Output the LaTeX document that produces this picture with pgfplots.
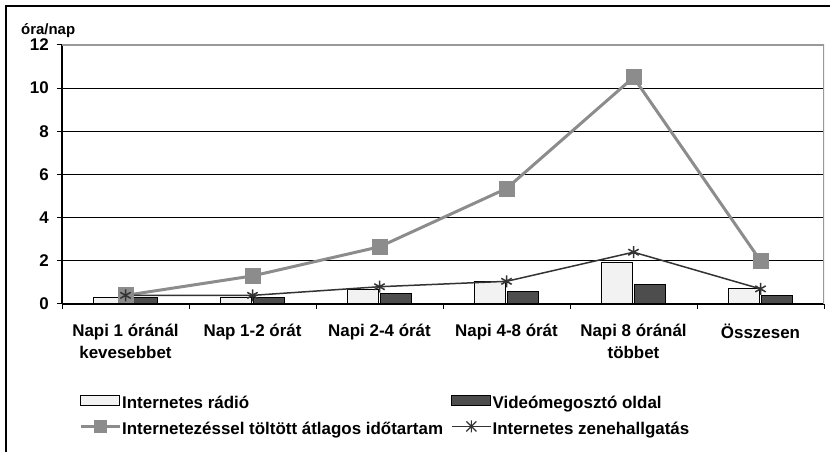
\documentclass[border=0pt]{standalone}
\usepackage{pgfplots}
\pgfplotsset{compat=1.18}
\usepackage{fontspec}
\setmainfont{Liberation Sans}
\definecolor{linegray}{HTML}{8C8C8C}
\definecolor{framegray}{HTML}{999999}
\definecolor{lightbar}{HTML}{F2F2F2}
\definecolor{darkbar}{HTML}{4D4D4D}
\definecolor{starline}{HTML}{333333}
\begin{document}
\begin{tikzpicture}[x=1bp,y=1bp]
\useasboundingbox (0,0) rectangle (830,452);
\draw[line width=1.2bp] (6,-10) -- (6,446) -- (840,446);
\begin{axis}[
  at={(62bp,148bp)}, anchor=south west,
  scale only axis, width=762bp, height=259bp,
  xmin=-0.5, xmax=5.5, ymin=0, ymax=12,
  ytick={0,2,...,12},
  xtick={0,...,5},
  xticklabels={{Napi 1 óránál\\kevesebbet},{Nap 1-2 órát},{Napi 2-4 órát},{Napi 4-8 órát},{Napi 8 óránál\\többet},{Összesen}},
  minor xtick={-0.5,0.5,...,5.5},
  tick align=outside,
  major tick length=5bp, minor tick length=5bp,
  major x tick style={draw=none},
  tick style={black, line width=1bp},
  axis x line*=bottom, axis y line*=left,
  axis line style={-, black, line width=1.5bp},
  ymajorgrids,
  major grid style={black, line width=1bp},
  /pgf/number format/assume math mode=true,
  yticklabel style={font=\fontsize{17}{19}\selectfont\bfseries, inner sep=0pt, xshift=-8bp},
  xticklabel style={font=\fontsize{17}{21.5}\selectfont\bfseries, align=center, inner sep=0pt, yshift=-15bp},
  legend columns=2,
  legend cell align=left,
  legend style={draw=none, fill=none, inner sep=0pt,
    at={(axis description cs:0.0223,-0.35)}, anchor=north west,
    font=\fontsize{17}{19}\selectfont\bfseries,
    row sep=10bp,
    nodes={inner sep=0pt},
    /tikz/every odd column/.append style={column sep=1bp},
    /tikz/every even column/.append style={column sep=8bp}},
]
\addplot[ybar, bar width=31bp, bar shift=-16.5bp, fill=lightbar, draw=black, line width=1bp,
  legend image code/.code={\draw[fill=lightbar, draw=black, line width=1bp] (0bp,-2.5bp) rectangle (39bp,7.5bp);}]
  coordinates {(0,0.3) (1,0.3) (2,0.65) (3,1.05) (4,1.9) (5,0.7)};
\addlegendentry{Internetes rádió}
\addplot[ybar, bar width=31bp, bar shift=16.5bp, fill=darkbar, draw=black, line width=1bp,
  legend image code/.code={\draw[fill=darkbar, draw=black, line width=1bp] (0bp,-2.5bp) rectangle (39bp,7.5bp);}]
  coordinates {(0,0.3) (1,0.3) (2,0.5) (3,0.6) (4,0.9) (5,0.4)};
\addlegendentry{Videómegosztó oldal}
\addplot[linegray, line width=3bp, mark=square*, mark size=6.5bp, mark options={solid, fill=linegray, draw=none},
  legend image code/.code={\draw[linegray, line width=3bp] (0bp,2.5bp) -- (39bp,2.5bp); \fill[linegray] (14.5bp,-2.5bp) rectangle (24.5bp,7.5bp);}]
  coordinates {(0,0.4) (1,1.3) (2,2.65) (3,5.35) (4,10.5) (5,2.0)};
\addlegendentry{Internetezéssel töltött átlagos időtartam}
\addplot[starline, line width=1.5bp, mark=asterisk, mark size=6bp, mark options={solid, line width=1.5bp},
  legend image code/.code={\draw[starline, line width=1.5bp] (0bp,2.5bp) -- (39bp,2.5bp); \draw[starline, line width=1.2bp] (14.5bp,-2.5bp) -- (24.5bp,7.5bp) (14.5bp,7.5bp) -- (24.5bp,-2.5bp) (19.5bp,-3.5bp) -- (19.5bp,8.5bp);}]
  coordinates {(0,0.4) (1,0.4) (2,0.8) (3,1.05) (4,2.4) (5,0.7)};
\addlegendentry{Internetes zenehallgatás}
\draw[framegray, line width=1.5bp] (rel axis cs:0,1) -- (rel axis cs:1,1) -- (rel axis cs:1,0);
\end{axis}
\node[anchor=base west, inner sep=0pt, font=\fontsize{15}{18}\selectfont\bfseries] at (21,417) {óra/nap};
\end{tikzpicture}
\end{document}
